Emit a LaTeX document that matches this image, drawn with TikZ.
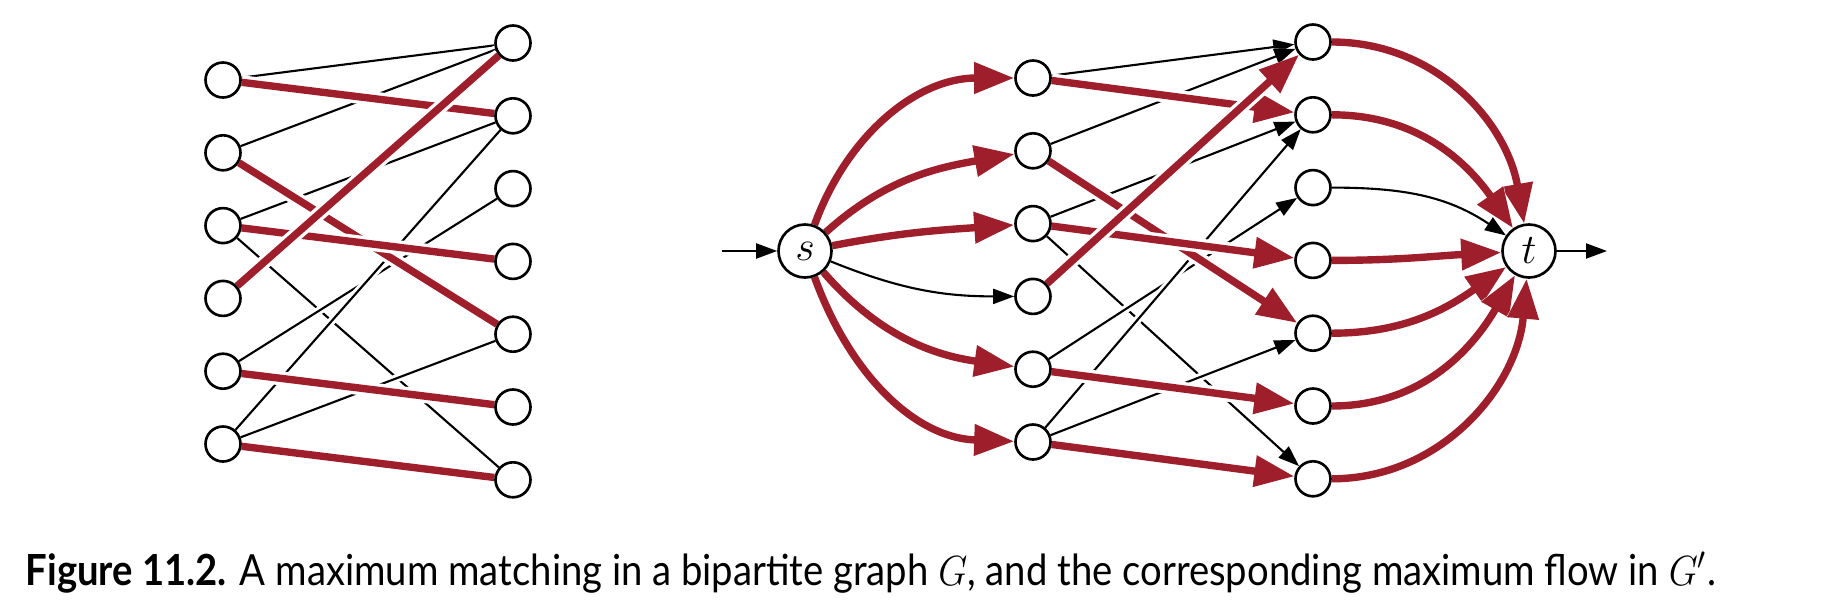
\documentclass[tikz,border=0pt]{standalone}
\usepackage{fontspec}
\setmainfont{Lato}
\usetikzlibrary{arrows.meta, backgrounds}
\definecolor{flowred}{HTML}{9E1F2B}
\tikzset{
  every picture/.style={line join=round},
  vtx/.style={circle, draw, line width=0.75pt, fill=white, minimum size=0.35cm, inner sep=0pt},
  term/.style={vtx, minimum size=0.53cm, font=\fontsize{13}{14}\selectfont},
  edge/.style={line width=0.6pt, preaction={draw=white, line width=2.3pt}},
  match/.style={flowred, line width=2.1pt, preaction={draw=white, line width=4pt}},
  arc/.style={edge, -{Triangle[length=0.21cm, width=0.15cm]}},
  flow/.style={match, -{Triangle[length=0.40cm, width=0.30cm]}},
}

\begin{document}
\begin{tikzpicture}
  \useasboundingbox (0,0) rectangle (18.46,-6.06);
  % ---------------- bipartite graph G
  \foreach \i in {1,...,6} \node[vtx] (l\i) at (2.23,{-0.80-0.728*(\i-1)}) {};
  \foreach \j in {1,...,7} \node[vtx] (r\j) at (5.13,{-0.43-0.728*(\j-1)}) {};
  \begin{scope}[on background layer]
    \foreach \a/\b in {1/1,2/1,3/2,3/7,5/3,6/2,6/5} \draw[edge] (l\a) -- (r\b);
    % matching edges
    \foreach \a/\b in {1/2,2/5,3/4,4/1,5/6,6/7} \draw[match] (l\a) -- (r\b);
  \end{scope}
  % ---------------- flow network G'
  \node[term] (s) at (8.05,-2.51) {$s$};
  \node[term] (t) at (15.29,-2.51) {$t$};
  \foreach \i in {1,...,6} \node[vtx] (a\i) at (10.33,{-0.78-0.728*(\i-1)}) {};
  \foreach \j in {1,...,7} \node[vtx] (b\j) at (13.13,{-0.42-0.728*(\j-1)}) {};
  \coordinate (enter) at (7.22,-2.51);
  \coordinate (leave) at (16.07,-2.51);
  \begin{scope}[on background layer]
    \draw[arc] (enter) -- (s);
    \draw[arc] (t) -- (leave);
    % source side
    \draw[arc] (s) to[out=-22, in=180] (a4);
    \foreach \i/\p/\q in {1/70/180, 2/42/190, 3/11/184, 5/-49/172, 6/-70/178}
      \draw[flow] (s) to[out=\p, in=\q] (a\i);
    % middle
    \foreach \a/\b in {1/1,2/1,3/2,3/7,5/3,6/2,6/5} \draw[arc] (a\a) -- (b\b);
    \foreach \a/\b in {1/2,2/5,3/4,4/1,5/6,6/7} \draw[flow] (a\a) -- (b\b);
    % sink side
    \draw[arc] (b3) to[out=0, in=146] (t);
    \foreach \j/\q in {1/100, 2/125, 4/183, 5/215, 6/240, 7/265}
      \draw[flow] (b\j) to[out=0, in=\q] (t);
  \end{scope}
  % ---------------- caption
  \node[anchor=base west, inner sep=0pt, font=\fontsize{12.2}{14}\selectfont] (cap) at (0.25,-5.85)
    {\scalebox{0.892}[1]{\textbf{Figure 11.2.} A maximum matching in a bipartite graph $G$, and the corresponding maximum flow in $G'$.}};
\end{tikzpicture}
\end{document}
